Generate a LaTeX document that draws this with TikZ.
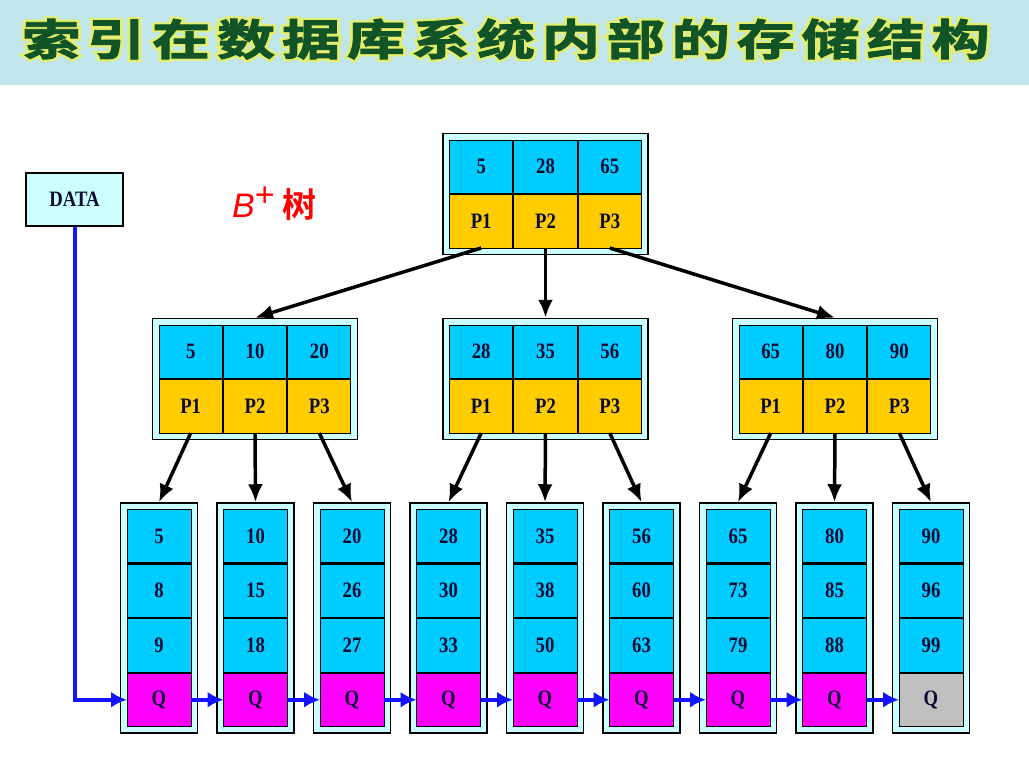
\documentclass[tikz,border=0pt]{standalone}
\usepackage{fontspec}
\usepackage{graphicx}
\usetikzlibrary{arrows.meta}
\setmainfont{Liberation Serif}
\setsansfont{Liberation Sans}
\newfontfamily\cellfont{Liberation Serif}[FakeStretch = 0.85]
\newfontfamily\cjk{Noto Sans CJK SC}[UprightFont = * Bold]
\newfontfamily\titlefont{Noto Sans CJK SC}[UprightFont = * Bold, LetterSpace = 12, FakeBold = 2]
\newfontfamily\glowfont{Noto Sans CJK SC}[UprightFont = * Bold, LetterSpace = 12, FakeBold = 12]

\definecolor{keyblue}{RGB}{0,204,255}
\definecolor{ptrgold}{RGB}{255,204,0}
\definecolor{qpink}{RGB}{255,0,255}
\definecolor{qgray}{RGB}{192,192,192}
\definecolor{framebg}{RGB}{204,255,255}
\definecolor{cellink}{RGB}{10,10,50}
\definecolor{linkblue}{RGB}{20,20,255}
\definecolor{titlegreen}{RGB}{16,84,40}
\definecolor{titleglow}{RGB}{228,238,110}
\definecolor{bannerbg}{RGB}{192,230,236}

\tikzstyle{cellbox} = [rectangle, draw = black, line width = 1pt, 
	minimum width = 63.3pt, minimum height = 53.5pt, inner sep = 0pt, outer sep = 0pt, 
	text = cellink, font = \cellfont\bfseries\fontsize{22}{24}\selectfont]
\tikzstyle{keycell} = [cellbox, fill = keyblue]
\tikzstyle{ptrcell} = [cellbox, fill = ptrgold]
\tikzstyle{leafcell} = [minimum width = 64pt]
\tikzstyle{nodebox} = [matrix, draw = black, line width = 1.5pt, fill = framebg, 
	inner sep = 6pt, row sep = 0pt, column sep = 0pt]
\tikzstyle{down} = [-{Latex[length = 18pt, width = 15pt]}, line width = 3.5pt, black]
\tikzstyle{qlink} = [-{Latex[length = 16pt, width = 16pt]}, line width = 4pt, linkblue]

\begin{document}
\begin{tikzpicture}[x = 1pt, y = -1pt]
\useasboundingbox (0,0) rectangle (1029,763);

% title banner
\fill [bannerbg] (0,0) rectangle (1029,85);
\node (titleback) [text = titleglow] at (506,39)
	{\scalebox{1}[0.74]{\glowfont\fontsize{58}{60}\selectfont 索引在数据库系统内部的存储结构}};
\node (title) [text = titlegreen] at (506,39)
	{\scalebox{1}[0.74]{\titlefont\fontsize{58}{60}\selectfont 索引在数据库系统内部的存储结构}};

\node (btree) [anchor = base west, text = red, inner sep = 0pt] at (232,217)
	{{\sffamily\itshape\fontsize{34}{34}\selectfont B}\raisebox{11pt}{\sffamily\fontsize{34}{34}\selectfont +}\hspace{8pt}{\cjk\fontsize{34}{34}\selectfont 树}};

\node (data) [rectangle, draw = black, line width = 1.5pt, fill = framebg, 
	minimum width = 97pt, minimum height = 53pt, text = cellink, 
	font = \cellfont\bfseries\fontsize{22}{24}\selectfont] at (74.5,199.5) {DATA};

% root
\node (root) [nodebox] at (545.5,194)
{
	\node (root-k1) [keycell] {5}; & 
	\node (root-k2) [keycell] {28}; &
	\node (root-k3) [keycell] {65}; \\
	\node (root-p1) [ptrcell] {P1}; & 
	\node (root-p2) [ptrcell] {P2}; &
	\node (root-p3) [ptrcell] {P3}; \\
};

% second level
\foreach \m/\x/\a/\b/\c in {1/255/5/10/20, 2/545.5/28/35/56, 3/835/65/80/90}
{
	\node (mid\m) [nodebox, ampersand replacement = \&] at (\x,379)
	{
		\node (mid\m-k1) [keycell] {\a}; \& 
		\node (mid\m-k2) [keycell] {\b}; \&
		\node (mid\m-k3) [keycell] {\c}; \\
		\node (mid\m-p1) [ptrcell] {P1}; \& 
		\node (mid\m-p2) [ptrcell] {P2}; \&
		\node (mid\m-p3) [ptrcell] {P3}; \\
	};
}

% leaves
\foreach \i/\x/\a/\b/\c/\q in {1/159/5/8/9/qpink, 2/255.5/10/15/18/qpink, 
	3/352/20/26/27/qpink, 4/448.5/28/30/33/qpink, 5/545/35/38/50/qpink, 
	6/641.5/56/60/63/qpink, 7/738/65/73/79/qpink, 8/834.5/80/85/88/qpink, 
	9/931/90/96/99/qgray}
{
	\node (leaf\i) [nodebox] at (\x,618)
	{
		\node (leaf\i-1) [keycell, leafcell] {\a}; \\
		\node (leaf\i-2) [keycell, leafcell] {\b}; \\
		\node (leaf\i-3) [keycell, leafcell] {\c}; \\
		\node (leaf\i-4) [cellbox, leafcell, fill = \q] {Q}; \\
	};
	\draw [line width = 2.5pt] (leaf\i-1.south west) -- (leaf\i-1.south east);
}

% pointers
\foreach \k in {1,2,3}
	\draw [down] (root-p\k.south) -- (mid\k.north);
\foreach \m in {1,2,3}
	\foreach \k in {1,2,3}
	{
		\pgfmathtruncatemacro{\n}{3*(\m-1)+\k}
		\draw [down] (mid\m-p\k.south) -- (leaf\n.north);
	}

% leaf chain
\draw [qlink] (data.south) |- (leaf1-4.west);
\foreach \i [evaluate = \i as \j using int(\i+1)] in {1,...,8}
	\draw [qlink] (leaf\i-4.east) -- (leaf\j-4.west);

\end{tikzpicture}
\end{document}
